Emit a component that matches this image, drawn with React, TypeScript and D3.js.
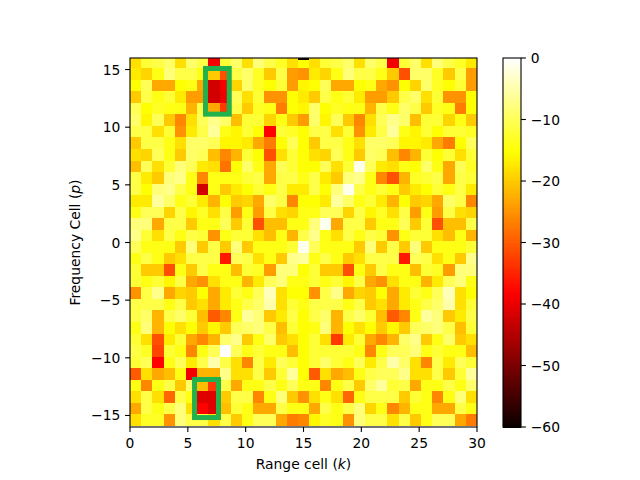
import React from "react";
import * as d3 from "d3";

const rows: number[][] = [
  [-18,-12,-11,-9,-18,-9,-11,-39,-12,-9,-18,-8,-11,-13,-18,-15,-18,-12,-11,-9,-18,-9,-11,-39,-12,-9,-18,-8,-11,-13,-17],
  [-17,-19,-14,-8,-11,-11,-14,-20,-31,-11,-9,-13,-20,-11,-24,-25,-17,-19,-14,-8,-11,-11,-14,-20,-31,-9,-9,-13,-20,-11,-24],
  [-15,-10,-23,-23,-15,-14,-23,-42,-39,-19,-9,-13,-15,-12,-24,-16,-15,-10,-23,-23,-15,-14,-23,-25,-15,-19,-9,-13,-15,-12,-24],
  [-20,-11,-14,-12,-17,-24,-24,-42,-40,-10,-18,-12,-25,-25,-15,-17,-20,-11,-14,-12,-17,-24,-24,-20,-11,-9,-18,-12,-25,-25,-15],
  [-10,-15,-13,-14,-14,-22,-11,-23,-33,-11,-20,-13,-14,-27,-15,-16,-9,-15,-13,-14,-14,-22,-11,-14,-9,-11,-20,-13,-14,-27,-15],
  [-9,-16,-10,-20,-26,-18,-10,-7,-9,-21,-12,-12,-19,-14,-20,-24,-9,-16,-10,-20,-26,-18,-10,-7,-9,-21,-12,-12,-19,-14,-20],
  [-11,-11,-18,-12,-25,-17,-11,-6,-14,-16,-12,-15,-38,-12,-13,-15,-11,-11,-18,-12,-25,-17,-11,-6,-14,-16,-12,-15,-12,-12,-13],
  [-20,-11,-11,-14,-18,-9,-9,-10,-16,-16,-17,-23,-27,-15,-10,-15,-20,-11,-11,-14,-18,-9,-9,-10,-16,-16,-17,-23,-27,-15,-10],
  [-18,-19,-10,-14,-20,-9,-10,-21,-26,-22,-12,-15,-31,-18,-12,-15,-18,-19,-10,-14,-20,-9,-10,-21,-26,-22,-12,-15,-12,-18,-12],
  [-21,-10,-18,-12,-8,-10,-17,-18,-28,-15,-9,-14,-23,-10,-12,-15,-15,-10,-18,-12,-1,-10,-17,-18,-14,-15,-9,-14,-23,-10,-13],
  [-11,-17,-20,-8,-7,-14,-26,-14,-14,-14,-12,-11,-23,-11,-11,-14,-11,-17,-20,-8,-7,-14,-26,-31,-22,-13,-12,-11,-23,-11,-12],
  [-11,-15,-8,-7,-11,-14,-42,-14,-20,-17,-15,-12,-14,-11,-17,-17,-11,-15,-8,-1,-11,-14,-12,-14,-20,-17,-15,-12,-14,-11,-17],
  [-17,-17,-6,-9,-14,-12,-17,-22,-15,-20,-19,-23,-9,-11,-26,-15,-15,-17,-6,-9,-14,-12,-17,-22,-15,-20,-19,-23,-9,-11,-26],
  [-14,-10,-10,-19,-11,-16,-13,-18,-11,-24,-14,-24,-11,-18,-19,-14,-14,-10,-10,-19,-11,-16,-13,-18,-11,-24,-14,-24,-11,-18,-19],
  [-8,-8,-23,-11,-11,-20,-14,-14,-10,-20,-12,-31,-21,-21,-14,-14,-8,-1,-23,-11,-11,-20,-14,-14,-10,-20,-12,-31,-21,-21,-11],
  [-7,-12,-18,-11,-14,-11,-12,-25,-14,-12,-12,-18,-21,-14,-22,-11,-7,-14,-18,-11,-14,-11,-12,-25,-14,-12,-12,-18,-21,-14,-22],
  [-10,-14,-14,-14,-20,-8,-20,-11,-20,-8,-20,-14,-14,-14,-12,-1,-10,-14,-14,-14,-20,-8,-20,-11,-20,-8,-20,-14,-14,-14,-12],
  [-14,-11,-14,-20,-18,-11,-11,-11,-36,-10,-11,-18,-14,-20,-7,-6,-14,-11,-14,-20,-18,-11,-11,-11,-36,-10,-11,-18,-14,-20,-7],
  [-12,-20,-20,-31,-14,-20,-11,-14,-14,-21,-12,-13,-24,-8,-8,-15,-12,-20,-20,-31,-14,-20,-11,-14,-14,-21,-12,-13,-24,-8,-8],
  [-12,-14,-12,-16,-11,-23,-25,-18,-14,-14,-22,-17,-10,-8,-14,-14,-12,-14,-12,-16,-11,-23,-25,-18,-14,-14,-22,-17,-10,-8,-14],
  [-25,-11,-7,-23,-19,-20,-15,-23,-17,-12,-14,-10,-4,-18,-15,-15,-25,-11,-7,-23,-19,-20,-15,-23,-17,-12,-14,-10,-4,-18,-15],
  [-11,-11,-11,-14,-11,-20,-18,-23,-17,-14,-11,-9,-5,-18,-12,-14,-11,-11,-11,-14,-11,-20,-18,-23,-17,-14,-11,-9,-5,-18,-12],
  [-11,-9,-22,-11,-9,-12,-21,-30,-26,-14,-6,-8,-20,-17,-11,-15,-11,-9,-22,-11,-9,-12,-21,-30,-26,-14,-6,-8,-20,-17,-11],
  [-14,-8,-22,-15,-18,-15,-20,-16,-20,-10,-9,-8,-11,-21,-12,-15,-14,-8,-22,-15,-18,-15,-20,-16,-20,-10,-9,-8,-11,-21,-12],
  [-12,-18,-31,-17,-12,-23,-26,-22,-9,-7,-20,-14,-9,-20,-18,-15,-12,-18,-33,-17,-12,-23,-26,-22,-9,-7,-20,-14,-9,-20,-18],
  [-11,-13,-32,-12,-14,-26,-14,-10,0,-10,-14,-12,-14,-14,-21,-15,-12,-12,-12,-12,-14,-26,-14,-10,-10,-8,-14,-12,-14,-14,-21],
  [-12,-10,-38,-14,-10,-17,-11,-5,-11,-18,-26,-11,-17,-10,-12,-15,-12,-9,-12,-14,-10,-17,-11,-5,-9,-18,-26,-11,-17,-10,-12],
  [-30,-18,-23,-21,-14,-39,-22,-22,-7,-18,-18,-11,-20,-12,-6,-15,-30,-18,-23,-21,-14,-11,-10,-10,-7,-18,-18,-11,-20,-12,-6],
  [-14,-26,-14,-11,-20,-9,-21,-33,-11,-23,-14,-14,-11,-14,-10,-14,-14,-26,-14,-11,-20,-9,-6,-12,-11,-23,-14,-14,-11,-14,-9],
  [-18,-11,-18,-29,-11,-14,-41,-41,-20,-11,-11,-26,-14,-8,-20,-25,-18,-14,-18,-29,-14,-11,-11,-11,-20,-12,-14,-26,-14,-8,-18],
  [-23,-11,-14,-11,-8,-18,-38,-41,-21,-12,-14,-23,-23,-11,-14,-14,-23,-11,-14,-11,-8,-19,-14,-26,-22,-14,-14,-23,-23,-11,-14],
  [-18,-13,-13,-25,-8,-11,-11,-18,-11,-20,-14,-10,-10,-23,-27,-26,-16,-13,-14,-25,-8,-11,-11,-18,-11,-20,-14,-10,-10,-23,-27],
];

const bottomSliver = [{ col: 5, value: -38 }, { col: 6, value: -38 }];
const topSliver = [{ col: 15, value: -60 }];
const xTicks = [0, 5, 10, 15, 20, 25, 30];
const yTicks = [-15, -10, -5, 0, 5, 10, 15];
const cbarTicks = [0, -10, -20, -30, -40, -50, -60];
const boxes = [
  { k0: 6.53, k1: 8.58, p0: 11.13, p1: 15.09 },
  { k0: 5.58, k1: 7.65, p0: -15.18, p1: -11.88 },
];

const CELL_TOP_P = 15.107;
const NCOLS = 31;

const t1 = 0.365079;
const t2 = 0.746032;
const rs = d3.scaleLinear([0, t1, 1], [0.0416, 1, 1]).clamp(true);
const gs = d3.scaleLinear([0, t1, t2, 1], [0, 0, 1, 1]).clamp(true);
const bs = d3.scaleLinear([0, t2, 1], [0, 0, 1]).clamp(true);
const norm = d3.scaleLinear([-60, 0], [0, 1]).clamp(true);
const hot = (v: number) => {
  const t = norm(v);
  return d3.rgb(rs(t) * 255, gs(t) * 255, bs(t) * 255).formatRgb();
};

const L = 130, R = 477, T = 58, B = 427;
const x = d3.scaleLinear([0, 30], [L, R]);
const y = d3.scaleLinear([-16, 16], [B, T]);
const cbarY = d3.scaleLinear([-60, 0], [B, T]);
const fmt = (n: number) => (n < 0 ? "\u2212" + Math.abs(n) : String(n));
const FONT = "'DejaVu Sans'";
const FS = 13.89;
const GREEN = "#22b14c";
const colEdge = (c: number) => x((c * 30) / NCOLS);
const clampY = d3.scaleLinear([T, B], [T, B]).clamp(true);

export default function App() {
  const bands = d3.range(256);
  return (
    <svg width={640} height={480} style={{ position: "absolute", left: 0, top: 0, background: "#fff" }} fontFamily={FONT} fontSize={FS}>
      <g shapeRendering="crispEdges">
        {rows.map((row, r) => {
          const y0 = clampY(y(CELL_TOP_P - r + 1));
          const y1 = clampY(y(CELL_TOP_P - r));
          return row.map((v, c) => (
            <rect key={`${r}-${c}`} x={colEdge(c)} y={y0} width={colEdge(c + 1) - colEdge(c)} height={y1 - y0} fill={hot(v)} />
          ));
        })}
        {bottomSliver.map((d) => (
          <rect key={d.col} x={colEdge(d.col)} y={y(CELL_TOP_P - rows.length)} width={colEdge(d.col + 1) - colEdge(d.col)} height={B - y(CELL_TOP_P - rows.length)} fill={hot(d.value)} />
        ))}
        {topSliver.map((d) => (
          <rect key={d.col} x={colEdge(d.col)} y={T} width={colEdge(d.col + 1) - colEdge(d.col)} height={2} fill={hot(d.value)} />
        ))}
      </g>
      {boxes.map((b, i) => (
        <rect key={i} x={x(b.k0)} y={y(b.p1)} width={x(b.k1) - x(b.k0)} height={y(b.p0) - y(b.p1)} fill="none" stroke={GREEN} strokeWidth={5} />
      ))}
      <rect x={L} y={T} width={R - L} height={B - T} fill="none" stroke="#000" strokeWidth={1.1} />
      {xTicks.map((t) => (
        <g key={t} transform={`translate(${x(t)},${B})`}>
          <line y2={4.9} stroke="#000" strokeWidth={1.1} />
          <text y={20.6} textAnchor="middle">{fmt(t)}</text>
        </g>
      ))}
      {yTicks.map((t) => (
        <g key={t} transform={`translate(${L},${y(t)})`}>
          <line x2={-4.9} stroke="#000" strokeWidth={1.1} />
          <text x={-9.7} y={5} textAnchor="end">{fmt(t)}</text>
        </g>
      ))}
      <text x={(L + R) / 2} y={469} textAnchor="middle">
        Range cell (<tspan fontStyle="italic">k</tspan>)
      </text>
      <text transform={`translate(80,${(T + B) / 2}) rotate(-90)`} textAnchor="middle">
        Frequency Cell (<tspan fontStyle="italic">p</tspan>)
      </text>
      <g shapeRendering="crispEdges">
        {bands.map((i) => {
          const v0 = -60 + (i * 60) / 256;
          const v1 = -60 + ((i + 1) * 60) / 256;
          return <rect key={i} x={503} y={cbarY(v1)} width={18} height={cbarY(v0) - cbarY(v1) + 0.5} fill={hot((v0 + v1) / 2)} />;
        })}
      </g>
      <rect x={503} y={T} width={18} height={B - T} fill="none" stroke="#000" strokeWidth={1.1} />
      {cbarTicks.map((t) => (
        <g key={t} transform={`translate(521,${cbarY(t)})`}>
          <line x2={4.9} stroke="#000" strokeWidth={1.1} />
          <text x={9.7} y={5}>{fmt(t)}</text>
        </g>
      ))}
    </svg>
  );
}
